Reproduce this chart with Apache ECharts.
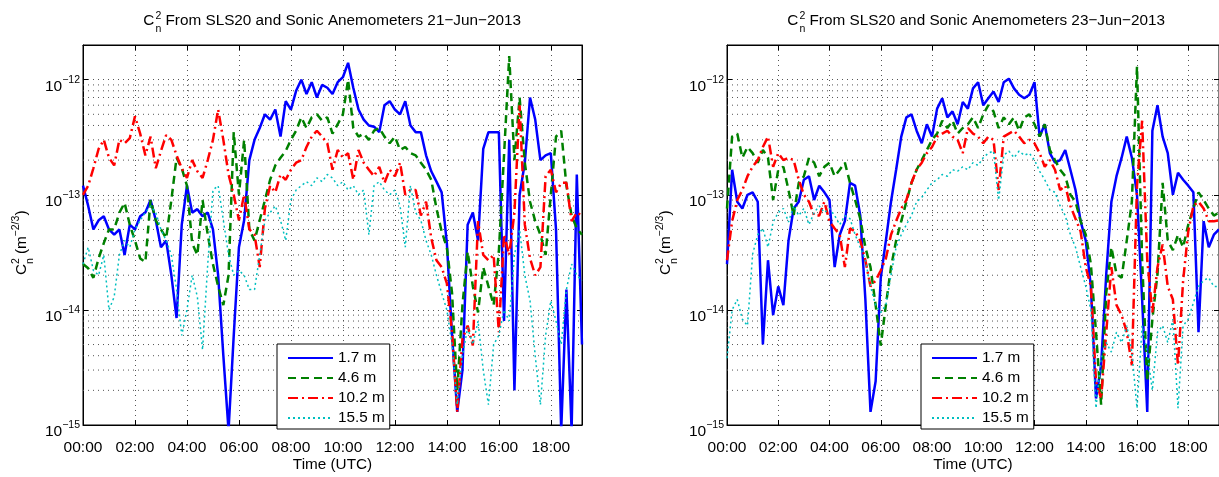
<!DOCTYPE html>
<html><head><meta charset="utf-8">
<script src="https://cdn.jsdelivr.net/npm/echarts@6/dist/echarts.min.js"></script>
<style>html,body{margin:0;padding:0;background:#fff}#c{width:1219px;height:477px}</style>
</head><body><div id="c"></div>
<script>
// ---------------- data ----------------
const hours = [0,0.2,0.4,0.6,0.8,1,1.2,1.4,1.6,1.8,
  2,2.2,2.4,2.6,2.8,3,3.2,3.4,3.6,3.8,
  4,4.2,4.4,4.6,4.8,5,5.2,5.4,5.6,5.8,
  6,6.2,6.4,6.6,6.8,7,7.2,7.4,7.6,7.8,
  8,8.2,8.4,8.6,8.8,9,9.2,9.4,9.6,9.8,
  10,10.2,10.4,10.6,10.8,11,11.2,11.4,11.6,11.8,
  12,12.2,12.4,12.6,12.8,13,13.2,13.4,13.6,13.8,
  14,14.2,14.4,14.6,14.8,15,15.2,15.4,15.6,15.8,
  16,16.2,16.4,16.6,16.8,17,17.2,17.4,17.6,17.8,
  18,18.2,18.4,18.6,18.8,19,19.2];

const seriesNames = ['1.7 m','4.6 m','10.2 m','15.5 m'];
const xTickLabels = ['00:00','02:00','04:00','06:00','08:00','10:00','12:00','14:00','16:00','18:00'];
const panelDates = ['21\u2212Jun\u22122013','23\u2212Jun\u22122013'];
const minorGridValues = [2e-15,3e-15,4e-15,5e-15,6e-15,7e-15,8e-15,9e-15,
  2e-14,3e-14,4e-14,5e-14,6e-14,7e-14,8e-14,9e-14,
  2e-13,3e-13,4e-13,5e-13,6e-13,7e-13,8e-13,9e-13];

// 21-Jun-2013
const jun21_17 = [1.2e-13,8e-14,5e-14,6e-14,6.5e-14,5e-14,4.5e-14,5e-14,3e-14,5.5e-14,
  5e-14,6.5e-14,7e-14,9e-14,6e-14,3.5e-14,4e-14,2e-14,8.5e-15,5.5e-14,
  1.2e-13,7e-14,7.5e-14,6.5e-14,7e-14,5e-14,2e-14,4e-15,9e-16,6e-15,
  3.5e-14,6e-14,2e-13,3e-13,3.8e-13,5e-13,4.5e-13,5.5e-13,3.2e-13,6.5e-13,
  5.5e-13,8e-13,1e-12,7.5e-13,9.5e-13,7e-13,9e-13,8.5e-13,7.5e-13,9.5e-13,
  1.05e-12,1.4e-12,8.5e-13,5.5e-13,4.5e-13,4e-13,3.9e-13,3.5e-13,6e-13,6.5e-13,
  5.5e-13,5e-13,6.5e-13,4e-13,3.5e-13,3.5e-13,2.2e-13,1.6e-13,1.3e-13,1.05e-13,
  3.8e-14,6e-15,1.3e-15,3e-15,5.5e-14,7e-14,4e-14,2.5e-13,3.5e-13,3.5e-13,
  3.5e-13,8e-15,3e-13,2e-15,1e-13,1.9e-13,7e-13,4.5e-13,2e-13,2.2e-13,
  2.3e-13,5e-14,9e-16,1.5e-14,9e-16,1.5e-13,5e-15];
const jun21_46 = [2.5e-14,2.3e-14,1.9e-14,2.8e-14,3.8e-14,5e-14,5e-14,7e-14,8.5e-14,5.5e-14,
  4e-14,2.8e-14,2.6e-14,9e-14,6e-14,5e-14,4.2e-14,9e-14,2.1e-13,1.7e-13,
  1.2e-13,3.8e-14,3e-14,9e-14,4.5e-14,2.5e-14,1.6e-14,1.1e-14,2e-14,3.5e-13,
  1e-13,3e-13,5e-14,4e-14,6e-14,9e-14,1.35e-13,1.8e-13,2.1e-13,2.4e-13,
  3e-13,3.6e-13,4.7e-13,3.8e-13,4.7e-13,5e-13,4.4e-13,4.7e-13,3.4e-13,4.1e-13,
  5e-13,1e-12,3.8e-13,3.2e-13,3.4e-13,3e-13,3.6e-13,3.8e-13,3.2e-13,2.8e-13,
  3.2e-13,2.45e-13,2.6e-13,2.3e-13,2.2e-13,1.9e-13,1.65e-13,1.35e-13,7.6e-14,4.8e-14,
  3.5e-14,1.4e-14,2e-15,1.1e-14,3.2e-14,1.6e-14,9.5e-15,2.35e-14,1.6e-14,1.1e-14,
  3.2e-14,2.2e-13,1.6e-12,2e-13,7e-13,1.9e-13,8.7e-14,5.9e-14,4.5e-14,3e-14,
  1e-13,3.2e-13,3.6e-13,1.2e-13,6.6e-14,5.1e-14,4.5e-14];
const jun21_102 = [1e-13,1.2e-13,1.7e-13,2.5e-13,3e-13,2.1e-13,1.8e-13,3e-13,2.8e-13,3.1e-13,
  4.8e-13,3.4e-13,2.2e-13,3.2e-13,1.7e-13,2.4e-13,3.3e-13,3e-13,2.2e-13,1.7e-13,
  1.4e-13,2e-13,1.6e-13,1.4e-13,2e-13,3e-13,5.5e-13,3e-13,1.5e-13,1e-13,
  6e-14,1e-13,5e-14,4.5e-14,2.35e-14,7.6e-14,1.2e-13,1.05e-13,1.5e-13,1.35e-13,
  1.65e-13,1.9e-13,2e-13,2.6e-13,3.2e-13,3.6e-13,3.2e-13,2.8e-13,1.65e-13,2.45e-13,
  2.1e-13,2.3e-13,1.35e-13,2.45e-13,1.9e-13,1.65e-13,1.45e-13,1.75e-13,1.27e-13,1.65e-13,
  1.45e-13,1.9e-13,1e-13,1.1e-13,1.1e-13,6.6e-14,8.7e-14,4.2e-14,2.7e-14,2.35e-14,
  1.7e-14,6.4e-15,1.3e-15,5.6e-15,7.3e-15,4.9e-15,5.9e-14,3e-14,2.7e-14,3e-14,
  6.4e-15,4.5e-14,3e-14,7e-14,6e-13,5.5e-14,2.8e-14,2e-14,2.35e-14,1.45e-13,
  1.65e-13,1.05e-13,1.27e-13,1.27e-13,5.9e-14,7e-14,6.6e-14];
const jun21_155 = [2.5e-14,3.5e-14,2.2e-14,2e-14,3e-14,1e-14,1.3e-14,3e-14,4e-14,3.5e-14,
  5e-14,6e-14,7e-14,8e-14,7e-14,5e-14,4e-14,3e-14,1.5e-14,6e-15,
  1e-14,2e-14,1.3e-14,4.5e-15,2.5e-14,1.1e-13,1.2e-13,6e-14,3e-14,2e-14,
  2.2e-14,2e-14,1.5e-14,1.5e-14,3e-14,6e-14,7e-14,8e-14,6e-14,4e-14,
  9e-14,1.1e-13,1.2e-13,1.3e-13,1.2e-13,1.4e-13,1.3e-13,1.5e-13,1.4e-13,1.2e-13,
  1.3e-13,1.1e-13,1.2e-13,1e-13,1.1e-13,4.5e-14,1.2e-13,1.3e-13,1.1e-13,1e-13,
  1.1e-13,8e-14,3.5e-14,1.2e-13,7e-14,6e-14,4e-14,3e-14,2e-14,1.4e-14,
  1e-14,5e-15,1.5e-15,4e-15,7e-15,5e-15,8e-15,3e-15,1.5e-15,5e-15,
  6e-15,1e-14,8e-15,3e-14,5e-14,2e-14,1.2e-14,4e-15,1.5e-15,6e-15,
  1.2e-14,8e-15,5e-15,1.5e-14,2.5e-14,2e-14,1.8e-14];

// 23-Jun-2013
const jun23_17 = [2.5e-14,1.65e-13,8.7e-14,7.6e-14,1e-13,1.05e-13,8.7e-14,5e-15,2.7e-14,9e-15,
  1.6e-14,1.1e-14,4e-14,7.6e-14,8.7e-14,1.35e-13,1.45e-13,9e-14,1.2e-13,1.05e-13,
  9e-14,2.35e-14,4.5e-14,5.9e-14,1.27e-13,1.2e-13,6.6e-14,1.23e-14,1.3e-15,2.4e-15,
  1.9e-14,4e-14,8.7e-14,1.65e-13,3.2e-13,4.7e-13,5e-13,3.6e-13,2.8e-13,4.1e-13,
  3.2e-13,5.6e-13,6.9e-13,4.7e-13,5.3e-13,4.1e-13,6.4e-13,5.6e-13,8.4e-13,9.5e-13,
  6e-13,6.9e-13,7.9e-13,6.4e-13,9.5e-13,1.02e-12,8.4e-13,7.4e-13,6.9e-13,7.4e-13,
  9.5e-13,3.2e-13,4.1e-13,2.3e-13,1.9e-13,2e-13,2.45e-13,1.65e-13,1.1e-13,5.9e-14,
  4e-14,1.6e-14,1.7e-15,3.3e-15,2.05e-14,8.7e-14,1.45e-13,2.1e-13,3.2e-13,2.1e-13,
  1e-13,1.23e-14,1.3e-15,3.6e-13,6e-13,3.2e-13,2.3e-13,1e-13,1.55e-13,1.35e-13,
  1.2e-13,1.05e-13,6.4e-15,5.9e-14,3.5e-14,4.5e-14,5e-14];
const jun23_46 = [7.6e-14,3.2e-13,3.4e-13,2.1e-13,2.6e-13,2.3e-13,1.9e-13,2.45e-13,2.1e-13,9e-14,
  1.65e-13,1.75e-13,1.1e-13,6.6e-14,1.27e-13,1.45e-13,2.1e-13,1.9e-13,1.45e-13,1.75e-13,
  1.9e-13,1.45e-13,1.65e-13,1.9e-13,1.27e-13,9e-14,6.2e-14,3.5e-14,2.35e-14,1.1e-14,
  4.9e-15,1.1e-14,2.35e-14,4e-14,5.9e-14,8.7e-14,1.27e-13,1.65e-13,2e-13,2.45e-13,
  3e-13,3.4e-13,4.4e-13,3.8e-13,4.4e-13,3.4e-13,3.8e-13,4.1e-13,4.7e-13,3.8e-13,
  5e-13,6e-13,5.3e-13,3.8e-13,4.7e-13,4.1e-13,4.7e-13,3.6e-13,4.7e-13,5e-13,
  4.1e-13,3.2e-13,4.1e-13,2.45e-13,2e-13,1.65e-13,1.45e-13,1e-13,8.7e-14,5.9e-14,
  4.5e-14,2.5e-14,6.4e-15,1.5e-15,1.4e-14,3.5e-14,2.05e-14,1.9e-14,4e-14,8.7e-14,
  1.3e-12,2.7e-14,2.4e-15,8.3e-15,2.05e-14,1.27e-13,4e-14,3.3e-14,4.5e-14,3.5e-14,
  5.5e-14,7.6e-14,1.05e-13,9e-14,7.6e-14,6.6e-14,7e-14];
const jun23_102 = [2.7e-14,5.9e-14,9e-14,1.1e-13,1.45e-13,1.75e-13,2e-13,2.6e-13,3.2e-13,1.75e-13,
  2.3e-13,2e-13,2.1e-13,2e-13,1.35e-13,1e-13,8.7e-14,6.6e-14,6.6e-14,8.7e-14,
  5.9e-14,5.1e-14,4.5e-14,2.35e-14,5.1e-14,4.8e-14,4e-14,2.7e-14,1.6e-14,1.8e-14,
  2.2e-14,2.8e-14,4.5e-14,5.9e-14,7.6e-14,9e-14,1.27e-13,1.65e-13,1.9e-13,2.3e-13,
  2.6e-13,3.2e-13,3.4e-13,3.6e-13,3.2e-13,3e-13,2.3e-13,3.8e-13,3.4e-13,3.2e-13,
  2.8e-13,3.2e-13,3e-13,1.1e-13,3.2e-13,3.4e-13,3.6e-13,3.2e-13,2.8e-13,3e-13,
  2.8e-13,2.3e-13,1.75e-13,2e-13,1.65e-13,1.1e-13,1.2e-13,8e-14,6.2e-14,4.8e-14,
  2.35e-14,1.6e-14,2.4e-15,1.7e-15,6.4e-15,2.35e-14,1.1e-14,9e-15,6.4e-15,3.3e-15,
  1.2e-13,4.4e-13,2.7e-14,9.5e-15,2.35e-14,3.7e-14,1.6e-14,1.23e-14,3.3e-15,1.8e-14,
  4.8e-14,8e-14,8.7e-14,7.6e-14,5.9e-14,5.9e-14,6e-14];
const jun23_155 = [3.8e-15,1e-14,1.23e-14,8.3e-15,7.3e-15,3.05e-14,4.5e-14,5.1e-14,3.5e-14,5.8e-14,
  7e-14,7.6e-14,5.8e-14,8e-14,6.6e-14,7.6e-14,5.5e-14,7e-14,8e-14,7e-14,
  7.6e-14,6.6e-14,5.5e-14,6.6e-14,6.2e-14,4.5e-14,3.5e-14,2.7e-14,1.6e-14,1.1e-14,
  9.5e-15,1.1e-14,2e-14,3.5e-14,4.5e-14,5.5e-14,6.6e-14,8.7e-14,9.5e-14,1.1e-13,
  1.27e-13,1.35e-13,1.5e-13,1.45e-13,1.65e-13,1.6e-13,1.75e-13,1.65e-13,1.9e-13,1.8e-13,
  2.1e-13,2.3e-13,2.4e-13,9e-14,2.2e-13,2.4e-13,2.1e-13,2.4e-13,2.2e-13,2.3e-13,
  2e-13,1.6e-13,1.35e-13,1.1e-13,1.05e-13,8e-14,6.6e-14,4.5e-14,3.5e-14,2.35e-14,
  1.6e-14,1e-14,1.4e-15,3.8e-15,5.2e-15,4.3e-15,6.4e-15,5.2e-15,7.3e-15,4.3e-15,
  1.4e-15,7.3e-15,4.3e-15,2e-15,6.4e-15,7.3e-15,5.2e-15,8.3e-15,1.4e-15,7.3e-15,
  8.3e-15,1.15e-14,1.6e-14,1.8e-14,1.9e-14,1.6e-14,1.6e-14];

const panels = [
  [jun21_17, jun21_46, jun21_102, jun21_155],
  [jun23_17, jun23_46, jun23_102, jun23_155]
];

// ---------------- style ----------------
const FONT = '"Liberation Sans", Arial, Helvetica, sans-serif';
const FS = 15.3, FS_TICK = 15.5, FS_SMALL = 10.5;
const lineStyles = [
  {color:'#0000FF', width:2.5, type:'solid'},
  {color:'#008000', width:2.5, type:[8,5]},
  {color:'#FF0000', width:2.5, type:[10,4,2,4]},
  {color:'#00BFBF', width:1.5, type:[2,3]}
];
const gridLeft = [83, 727], gridTop = 45, gridW = 499, gridH = 389.5;
const XMAX = 19.2, YMIN = 1e-15, YMAX = 2e-12;
const gridLineStyle = {color:'#555', width:1, type:[1,4]};

function xFmt(v){
  const i = Math.round(v/2);
  return (Math.abs(v-2*i) < 1e-6 && i >= 0 && i < xTickLabels.length) ? xTickLabels[i] : '';
}
function yFmt(v){
  const e = Math.log10(v), r = Math.round(e);
  if (Math.abs(e-r) > 1e-4) return '';
  return '{b|10}{s|' + (r < 0 ? '\u2212' : '') + Math.abs(r) + '}';
}
// minor (2..9 x 10^k) horizontal grid lines across the x range, separated by gaps
const minorGridData = [];
minorGridValues.forEach(v => { minorGridData.push([0, v], [XMAX, v], [XMAX, '-']); });

const grids = [], xAxes = [], yAxes = [], series = [], graphics = [], legends = [];
for (let g = 0; g < 2; g++) {
  grids.push({left:gridLeft[g], top:gridTop, width:gridW, height:gridH, show:true,
    borderColor:'#000', borderWidth:1, backgroundColor:'#fff', containLabel:false});
}
for (let g = 0; g < 2; g++) {
  xAxes.push({type:'value', gridIndex:g, min:0, max:XMAX, interval:2, position:'bottom',
    axisLine:{show:true, onZero:false, lineStyle:{color:'#000', width:1}},
    axisTick:{show:true, inside:true, length:5, lineStyle:{color:'#000'}},
    axisLabel:{formatter:xFmt, color:'#000', fontSize:FS_TICK, fontFamily:FONT, margin:15, showMaxLabel:false},
    splitLine:{show:true, lineStyle:gridLineStyle},
    name:'Time (UTC)', nameLocation:'middle', nameGap:32, nameMoveOverlap:false,
    nameTextStyle:{color:'#000', fontSize:FS, fontFamily:FONT}});
}
for (let g = 0; g < 2; g++) {
  xAxes.push({type:'value', gridIndex:g, min:0, max:XMAX, interval:2, position:'top',
    axisLine:{show:true, onZero:false, lineStyle:{color:'#000', width:1}},
    axisTick:{show:true, inside:true, length:5, lineStyle:{color:'#000'}},
    axisLabel:{show:false}, splitLine:{show:false}});
}
for (let g = 0; g < 2; g++) {
  yAxes.push({type:'log', logBase:10, gridIndex:g, min:YMIN, max:YMAX, position:'left',
    axisLine:{show:true, onZero:false, lineStyle:{color:'#000', width:1}},
    axisTick:{show:true, inside:true, length:5, lineStyle:{color:'#000'}},
    axisLabel:{formatter:yFmt, margin:3, showMaxLabel:false, padding:[14,0,0,0],
      rich:{b:{fontSize:FS_TICK, fontFamily:FONT, color:'#000', lineHeight:24, verticalAlign:'middle'},
            s:{fontSize:FS_SMALL, fontFamily:FONT, color:'#000', lineHeight:11, verticalAlign:'top'}}},
    splitLine:{show:true, lineStyle:gridLineStyle}});
}
for (let g = 0; g < 2; g++) {
  yAxes.push({type:'log', logBase:10, gridIndex:g, min:YMIN, max:YMAX, position:'right',
    axisLine:{show:true, onZero:false, lineStyle:{color:'#000', width:1}},
    axisTick:{show:true, inside:true, length:5, lineStyle:{color:'#000'}},
    axisLabel:{show:false}, splitLine:{show:false}});
}
for (let g = 0; g < 2; g++) {
  series.push({type:'line', xAxisIndex:g, yAxisIndex:g, data:minorGridData, z:2, silent:true,
    symbol:'none', showSymbol:false, connectNulls:false, lineStyle:gridLineStyle,
    itemStyle:{opacity:0}, emphasis:{disabled:true}});
  for (let s = 0; s < 4; s++) {
    const arr = panels[g][s];
    series.push({type:'line', name:seriesNames[s], xAxisIndex:g, yAxisIndex:g,
      data:hours.map((h,i) => [h, arr[i]]), symbol:'none', showSymbol:false,
      lineStyle:lineStyles[s], itemStyle:{color:lineStyles[s].color, opacity:0},
      silent:true, z:3, clip:true, emphasis:{disabled:true}});
  }
  const dx = gridLeft[g] - gridLeft[0];
  legends.push({data:seriesNames, orient:'vertical', left:277+dx, top:344,
    itemWidth:45, itemHeight:16, itemGap:4, padding:[6,5,3,10],
    borderColor:'#000', borderWidth:1, backgroundColor:'#fff', borderRadius:0,
    selectedMode:false, z:10, itemStyle:{opacity:0},
    textStyle:{fontSize:FS, fontFamily:FONT, color:'#000', lineHeight:16}});
  const tx = 143.3 + dx;
  const txt = (x, y, text, fs) => ({type:'text', x:x, y:y, silent:true,
    style:{text:text, fontSize:fs, fontFamily:FONT, fill:'#000', align:'left', verticalAlign:'middle'}});
  // title: C with stacked superscript 2 / subscript n
  graphics.push(txt(tx, 21, 'C', FS));
  graphics.push(txt(tx+12.2, 16, '2', FS_SMALL));
  graphics.push(txt(tx+12.2, 29, 'n', FS_SMALL));
  graphics.push(txt(tx+22.2, 21, 'From SLS20 and Sonic Anemometers ' + panelDates[g], FS));
  // rotated y-axis label
  graphics.push({type:'group', x:21.3+dx, y:275, rotation:Math.PI/2, silent:true, children:[
    txt(0, 0, 'C', FS),
    txt(11, -5, '2', FS_SMALL),
    txt(11, 8.5, 'n', FS_SMALL),
    txt(21, 0, '(m', FS),
    txt(38.5, -5.5, '\u22122/3', FS_SMALL),
    txt(59.5, 0, ')', FS)
  ]});
}

const chart = echarts.init(document.getElementById('c'), null, {renderer:'canvas'});
chart.setOption({
  animation:false,
  backgroundColor:'#fff',
  grid:grids, xAxis:xAxes, yAxis:yAxes, series:series, legend:legends, graphic:graphics
});
</script>
</body></html>
